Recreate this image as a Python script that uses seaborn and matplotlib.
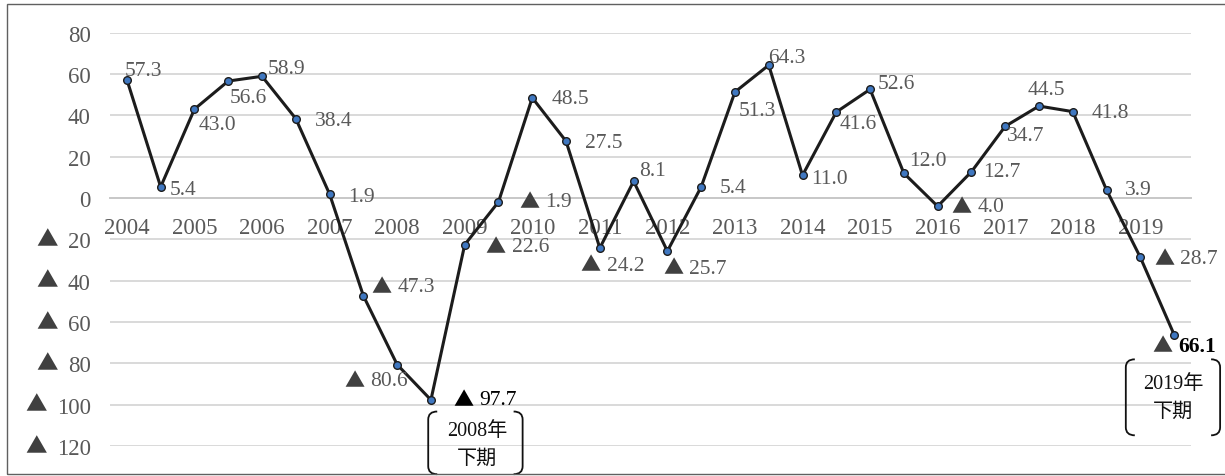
import numpy as np
import pandas as pd
import matplotlib
matplotlib.use("Agg")
import matplotlib.pyplot as plt
import seaborn as sns
from matplotlib.path import Path
from matplotlib.patches import PathPatch, Rectangle
from matplotlib.transforms import Affine2D
from matplotlib.ticker import FixedLocator, FuncFormatter

# Half-yearly index values, 2004 first half through 2019 second half
years = list(range(2004, 2020))
halves = ["上期", "下期"]
values = [57.3, 5.4, 43.0, 56.6, 58.9, 38.4, 1.9, -47.3, -80.6, -97.7,
          -22.6, -1.9, 48.5, 27.5, -24.2, 8.1, -25.7, 5.4, 51.3, 64.3,
          11.0, 41.6, 52.6, 12.0, -4.0, 12.7, 34.7, 44.5, 41.8, 3.9,
          -28.7, -66.1]
year_labels = [str(y) for y in years]
y_ticks = [-120, -100, -80, -60, -40, -20, 0, 20, 40, 60, 80]
callouts = {9: ["2008年", "下期"], 31: ["2019年", "下期"]}

# Label placement: (dx, dy) in pixels from the point to the label's left/centre
label_offsets = [(-2, 9), (9, -3), (4, -15), (1, -16), (6, 8), (19, -2), (19, -2),
                 (8, 9), (-53, -16), (22, 0), (21, -2), (21, 0), (19, -1), (19, -1),
                 (-19, -17), (6, 11), (-4, -17), (19, -1), (4, -18), (-1, 8),
                 (9, -3), (3, -11), (8, 6), (5, 13), (14, 0), (12, 0), (2, -9),
                 (-11, 17), (19, -1), (18, 0), (14, -1), (-22, -11)]

periods = [f"{y}{h}" for y in years for h in halves]
df = pd.DataFrame({"period": periods, "pos": np.arange(len(values)), "value": values})

sns.set_theme(style="white")
plt.rcParams["font.family"] = ["Liberation Serif", "DejaVu Sans"]
plt.rcParams["axes.unicode_minus"] = False

W, H, DPI = 1225, 477, 100
fig = plt.figure(figsize=(W / DPI, H / DPI), dpi=DPI)
fig.patch.set_facecolor("white")

# plot area in pixels: x 110..1191, y 33.7 (80) .. 447 (-120)
ax = fig.add_axes([110 / W, 1 - 447 / H, 1081 / W, (447 - 33.7) / H])
ax.set_xlim(-0.5, len(values) - 0.5)
ax.set_ylim(-120, 80)

TXT = "#595959"
TRI = "#404040"
GRID = "#d9d9d9"
FS = 15.5      # data labels
FT = 16.5      # axis labels
TRI_FONT = ["Noto Sans CJK JP", "DejaVu Sans"]

# gridlines; negative values are written with a leading triangle (added below)
ax.set_axisbelow(True)
ax.yaxis.set_major_locator(FixedLocator(y_ticks))
ax.yaxis.grid(True, color=GRID, linewidth=1.4)
ax.yaxis.set_major_formatter(FuncFormatter(lambda v, p: f"{abs(v):.0f}"))
ax.tick_params(axis="y", length=0, pad=14, labelsize=FT, labelcolor=TXT)

# category axis sitting on the zero line
for s in ["left", "right", "top"]:
    ax.spines[s].set_visible(False)
ax.spines["bottom"].set_position(("data", 0))
ax.spines["bottom"].set_color("#c8c8c8")
ax.spines["bottom"].set_linewidth(1.4)
ax.xaxis.set_major_locator(FixedLocator(np.arange(0, len(values), 2)))
ax.xaxis.set_minor_locator(FixedLocator(np.arange(-0.5, len(values), 2)))
ax.set_xticklabels(year_labels)
ax.tick_params(axis="x", which="major", length=0, pad=14, labelsize=FT, labelcolor=TXT)
ax.tick_params(axis="x", which="minor", direction="inout", length=9, width=1.4,
               color="#c8c8c8")

sns.lineplot(data=df, x="pos", y="value", ax=ax, sort=False, color="#1c1c1c",
             linewidth=2.2, marker="o", markersize=5.5, markerfacecolor="#3f77c0",
             markeredgecolor="#1c1c1c", markeredgewidth=1.0, zorder=3)
ax.set_xlabel("")
ax.set_ylabel("")


def value_label(i, v, dx, dy, color=TXT, tri_color=TRI, weight="normal"):
    if v < 0:
        ax.annotate("▲", (i, v), xytext=(dx, dy), textcoords="offset pixels",
                    ha="left", va="center", fontsize=FS - 1, color=tri_color,
                    family=TRI_FONT, zorder=5)
        dx += 26
    ax.annotate(f"{abs(v):.1f}", (i, v), xytext=(dx, dy), textcoords="offset pixels",
                ha="left", va="center", fontsize=FS, color=color,
                fontweight=weight, zorder=5)


for i, v in enumerate(values):
    dx, dy = label_offsets[i]
    if i == 9:
        value_label(i, v, dx, dy, color="black", tri_color="black")
    elif i == len(values) - 1:
        value_label(i, v, dx, dy, color="black", weight="bold")
    else:
        value_label(i, v, dx, dy)


def bracket_callout(idx, left, right, top, bottom, lines, text_dx, line_dys):
    px, py = ax.transData.transform((idx, values[idx]))
    tr = Affine2D().translate(px, py)
    T, B = -top, -bottom
    r, arm = 8, 9
    for x0, sgn in ((left, 1), (right, -1)):
        verts = [(x0 + sgn * arm, T), (x0, T), (x0, T - r),
                 (x0, B + r), (x0, B), (x0 + sgn * arm, B)]
        codes = [Path.MOVETO, Path.CURVE3, Path.CURVE3,
                 Path.LINETO, Path.CURVE3, Path.CURVE3]
        ax.add_patch(PathPatch(Path(verts, codes), transform=tr, fill=False,
                               lw=1.3, ec="#111111", clip_on=False, zorder=6))
    for line, ddy in zip(lines, line_dys):
        ax.text(text_dx, -ddy, line, transform=tr, ha="center", va="center",
                fontsize=FS - 1, color="#111111", clip_on=False, zorder=6,
                family=["Liberation Serif", "Noto Sans CJK JP"])


bracket_callout(9, -2.7, 91.7, 11.6, 74.3, callouts[9], 46, (31, 58.6))
bracket_callout(31, -48.3, 46, 24.7, 100.7, callouts[31], -1, (49, 76.7))

# triangles in front of the negative y tick labels
fig.canvas.draw()
renderer = fig.canvas.get_renderer()
for tick in ax.yaxis.get_major_ticks():
    val = tick.get_loc()
    if val < 0:
        bb = tick.label1.get_window_extent(renderer)
        x_px = bb.x0 - 10
        y_px = ax.transData.transform((0, val))[1]
        fig.text(x_px / W, y_px / H, "▲", ha="right", va="center",
                 fontsize=FT - 1, color=TRI, family=TRI_FONT)

# outer frame (right edge runs past the canvas)
fig.patches.append(Rectangle((7 / W, 1 - 475 / H), 1.2, (475 - 4.5) / H,
                             transform=fig.transFigure, fill=False,
                             ec="#606060", lw=1.0, zorder=10))

fig.savefig("out.png", dpi=DPI, facecolor="white")
